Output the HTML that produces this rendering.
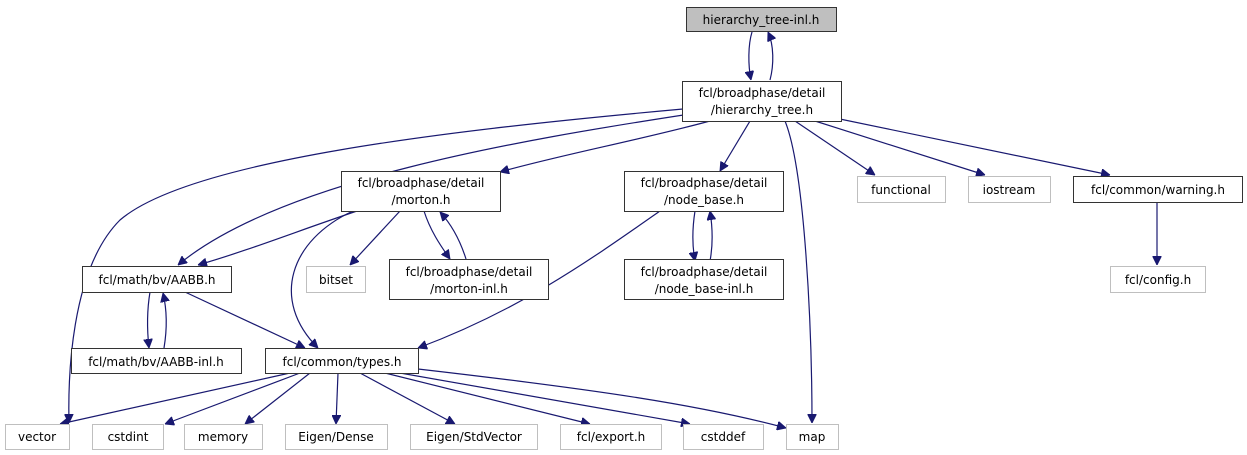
<!DOCTYPE html>
<html><head><meta charset="utf-8"><style>
html,body{margin:0;padding:0;background:#fff;}
svg{display:block;}
text{font-family:"DejaVu Sans","Liberation Sans",sans-serif;font-size:12px;fill:#000;}
.n{fill:#fff;stroke:#333;stroke-width:1;}
.g{fill:#fff;stroke:#bfbfbf;stroke-width:1;}
.e{fill:none;stroke:#191970;stroke-width:1.2;}
</style></head><body>
<svg width="1247" height="455" viewBox="0 0 1247 455" xmlns="http://www.w3.org/2000/svg">
<defs><marker id="a" viewBox="0 0 10 10" refX="10" refY="5" markerWidth="9" markerHeight="9" orient="auto" markerUnits="userSpaceOnUse"><path d="M0,0 L10,5 L0,10 z" fill="#191970" stroke="#191970"/></marker></defs>
<g class="e" marker-end="url(#a)">
<path d="M752,32 C748,45 748,65 751,80"/>
<path d="M770,80 C774,65 774,45 768,32"/>
<path d="M683,109 C450,130 190,160 120,220 C70,270 68,380 69,423"/>
<path d="M690,114 C520,140 280,180 178,265"/>
<path d="M710,121 C640,140 560,155 500,172"/>
<path d="M750,121 L720,171"/>
<path d="M785,121 C805,170 812,330 812,423"/>
<path d="M795,121 L875,175"/>
<path d="M815,121 L985,175"/>
<path d="M835,118 L1110,175"/>
<path d="M360,210 C300,230 250,250 198,265"/>
<path d="M353,211 C290,240 270,300 318,348"/>
<path d="M400,211 L350,265"/>
<path d="M424,211 C430,230 440,245 450,259"/>
<path d="M466,259 C460,240 452,225 440,212"/>
<path d="M660,211 C590,260 520,310 418,348"/>
<path d="M695,211 C692,230 692,245 695,261"/>
<path d="M710,261 C713,245 713,230 710,211"/>
<path d="M1157,202 L1157,265"/>
<path d="M185,292 L305,348"/>
<path d="M150,292 C147,310 147,330 149,348"/>
<path d="M164,348 C167,330 167,310 163,293"/>
<path d="M290,373 L60,424"/>
<path d="M300,373 L165,424"/>
<path d="M310,373 L245,424"/>
<path d="M338,373 L336,424"/>
<path d="M360,373 L455,424"/>
<path d="M385,373 L590,424"/>
<path d="M400,373 L690,424"/>
<path d="M418,369 C600,390 700,405 786,428"/>
</g>
<rect x="686.5" y="7.5" width="150" height="24" fill="#bfbfbf" stroke="#333"/>
<text x="761" y="24" text-anchor="middle">hierarchy_tree-inl.h</text>
<rect class="n" x="682.5" y="81.5" width="159" height="40"/>
<text x="762" y="97" text-anchor="middle">fcl/broadphase/detail</text>
<text x="762" y="114" text-anchor="middle">/hierarchy_tree.h</text>
<rect class="n" x="341.5" y="171.5" width="159" height="40"/>
<text x="421" y="187" text-anchor="middle">fcl/broadphase/detail</text>
<text x="421" y="204" text-anchor="middle">/morton.h</text>
<rect class="n" x="624.5" y="171.5" width="159" height="40"/>
<text x="704" y="187" text-anchor="middle">fcl/broadphase/detail</text>
<text x="704" y="204" text-anchor="middle">/node_base.h</text>
<rect class="g" x="857.5" y="176.5" width="88" height="26"/><text x="901" y="194" text-anchor="middle">functional</text>
<rect class="g" x="968.5" y="176.5" width="82" height="26"/><text x="1009" y="194" text-anchor="middle">iostream</text>
<rect class="n" x="1073.5" y="176.5" width="169" height="26"/><text x="1158" y="194" text-anchor="middle">fcl/common/warning.h</text>
<rect class="n" x="82.5" y="266.5" width="149" height="26"/><text x="157" y="284" text-anchor="middle">fcl/math/bv/AABB.h</text>
<rect class="g" x="306.5" y="266.5" width="59" height="26"/><text x="336" y="284" text-anchor="middle">bitset</text>
<rect class="n" x="389.5" y="259.5" width="159" height="40"/>
<text x="469" y="276" text-anchor="middle">fcl/broadphase/detail</text>
<text x="469" y="293" text-anchor="middle">/morton-inl.h</text>
<rect class="n" x="624.5" y="259.5" width="159" height="40"/>
<text x="704" y="276" text-anchor="middle">fcl/broadphase/detail</text>
<text x="704" y="293" text-anchor="middle">/node_base-inl.h</text>
<rect class="g" x="1110.5" y="266.5" width="95" height="26"/><text x="1158" y="284" text-anchor="middle">fcl/config.h</text>
<rect class="n" x="71.5" y="348.5" width="170" height="25"/><text x="156" y="366" text-anchor="middle">fcl/math/bv/AABB-inl.h</text>
<rect class="n" x="265.5" y="348.5" width="153" height="25"/><text x="342" y="366" text-anchor="middle">fcl/common/types.h</text>
<rect class="g" x="5.5" y="424.5" width="64" height="25"/><text x="37" y="441" text-anchor="middle">vector</text>
<rect class="g" x="92.5" y="424.5" width="71" height="25"/><text x="128" y="441" text-anchor="middle">cstdint</text>
<rect class="g" x="184.5" y="424.5" width="78" height="25"/><text x="223" y="441" text-anchor="middle">memory</text>
<rect class="g" x="285.5" y="424.5" width="102" height="25"/><text x="336" y="441" text-anchor="middle">Eigen/Dense</text>
<rect class="g" x="410.5" y="424.5" width="127" height="25"/><text x="474" y="441" text-anchor="middle">Eigen/StdVector</text>
<rect class="g" x="560.5" y="424.5" width="101" height="25"/><text x="611" y="441" text-anchor="middle">fcl/export.h</text>
<rect class="g" x="683.5" y="424.5" width="80" height="25"/><text x="723" y="441" text-anchor="middle">cstddef</text>
<rect class="g" x="786.5" y="424.5" width="52" height="25"/><text x="812" y="441" text-anchor="middle">map</text>
</svg>
</body></html>
